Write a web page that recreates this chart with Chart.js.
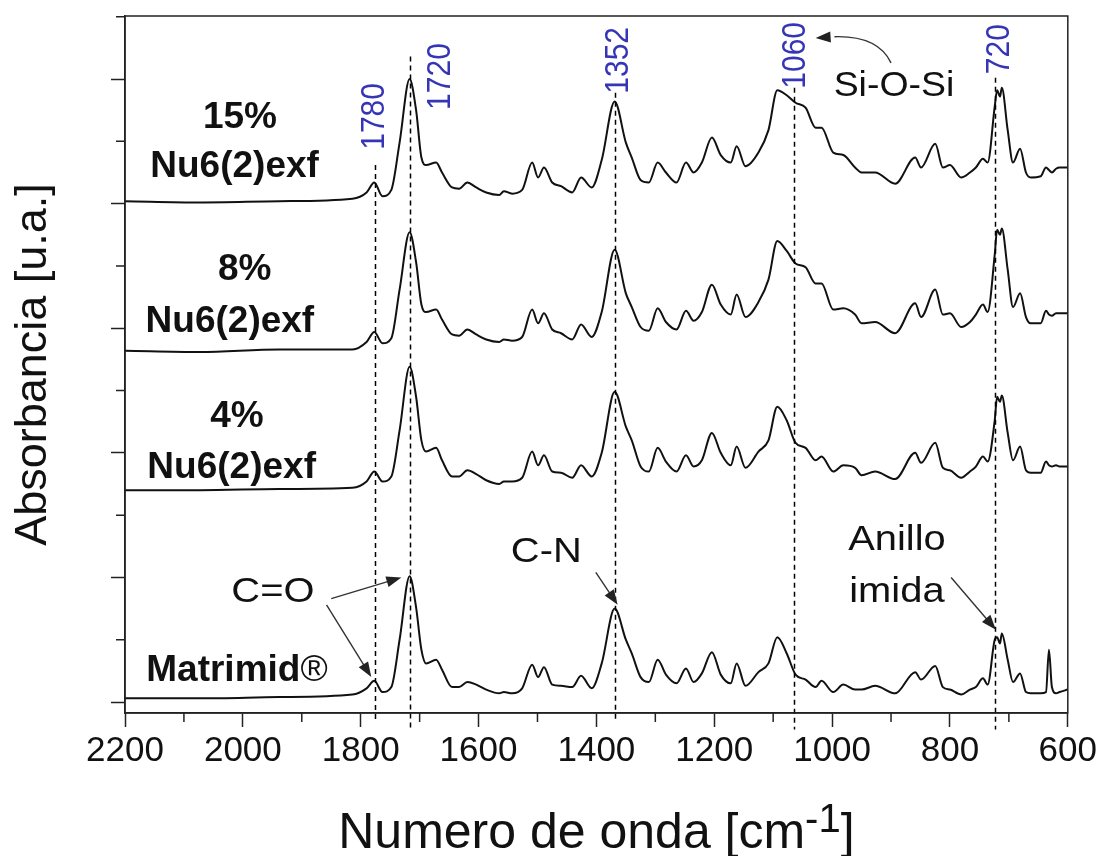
<!DOCTYPE html>
<html><head><meta charset="utf-8">
<script src="https://cdn.jsdelivr.net/npm/chart.js@4.4.1/dist/chart.umd.min.js"></script>
<style>html,body{margin:0;padding:0;background:#fff;}#wrap{width:1100px;height:856px;position:relative;}</style>
</head><body><div id="wrap"><canvas id="c"></canvas></div>
<script>
// ---- data (wavenumber in cm-1, absorbance in arbitrary stacked units) ----
const wavenumbers = [2200,2073,1938,1814,1790,1777,1763,1748,1734,1717,1706,1697,1689,1672,1662,1645,1633,1619,1604,1587,1565,1557,1543,1526,1509,1499,1489,1475,1460,1441,1426,1408,1391,1369,1350,1340,1325,1311,1296,1282,1264,1248,1235,1221,1204,1189,1172,1162,1147,1125,1108,1093,1077,1062,1045,1028,1018,998,981,961,950,927,893,859,849,825,812,800,781,766,756,744,736,724,720,715,712,702,693,681,671,663,646,637,632,627,620,614,600];
const nu6_15 = [4.02,4.01,4.02,4.04,4.09,4.17,4.06,4.11,4.49,5.00, 4.75,4.37,4.31,4.33,4.25,4.13,4.12,4.17,4.13,4.09, 4.07,4.10,4.08,4.11,4.33,4.21,4.29,4.17,4.14,4.09, 4.21,4.13,4.35,4.82,4.49,4.37,4.19,4.17,4.33,4.25, 4.17,4.33,4.25,4.33,4.53,4.39,4.33,4.46,4.30,4.41, 4.59,4.91,4.87,4.81,4.77,4.61,4.61,4.41,4.39,4.29, 4.25,4.25,4.16,4.37,4.29,4.48,4.29,4.31,4.21,4.25, 4.29,4.36,4.33,4.78,4.91,4.86,4.93,4.59,4.33,4.44, 4.25,4.21,4.22,4.29,4.27,4.25,4.28,4.29,4.29];
const nu6_8 = [2.82,2.81,2.83,2.83,2.89,2.97,2.88,2.92,3.31,3.77, 3.53,3.19,3.13,3.15,3.07,2.95,2.94,2.99,2.95,2.91, 2.89,2.91,2.90,2.93,3.15,3.04,3.12,2.99,2.96,2.91, 3.03,2.93,3.13,3.63,3.28,3.17,3.01,2.98,3.16,3.05, 2.99,3.14,3.06,3.13,3.35,3.19,3.11,3.27,3.09,3.21, 3.39,3.70,3.62,3.52,3.49,3.36,3.36,3.15,3.16,3.11, 3.04,3.05,2.96,3.20,3.09,3.31,3.11,3.12,3.01,3.05, 3.11,3.19,3.13,3.59,3.79,3.75,3.80,3.47,3.17,3.28, 3.09,3.04,3.04,3.14,3.11,3.10,3.12,3.12,3.12];
const nu6_4 = [1.70,1.70,1.71,1.72,1.77,1.85,1.77,1.81,2.18,2.69, 2.45,2.10,2.01,2.04,1.94,1.81,1.81,1.86,1.83,1.78, 1.75,1.77,1.77,1.80,2.01,1.90,1.98,1.85,1.84,1.80, 1.90,1.81,2.00,2.49,2.21,2.10,1.89,1.85,2.04,1.93, 1.85,1.98,1.89,1.94,2.16,2.00,1.90,2.05,1.88,2.01, 2.10,2.37,2.26,2.08,2.04,1.94,1.97,1.85,1.90,1.88, 1.82,1.85,1.79,2.00,1.92,2.08,1.88,1.86,1.80,1.85, 1.89,1.97,1.93,2.26,2.45,2.41,2.46,2.16,1.94,2.05, 1.86,1.84,1.84,1.93,1.90,1.89,1.90,1.89,1.89];
const matrimid = [0.03,0.03,0.04,0.06,0.11,0.17,0.08,0.12,0.50,1.01, 0.76,0.42,0.31,0.34,0.26,0.12,0.12,0.16,0.14,0.10, 0.07,0.08,0.07,0.11,0.30,0.20,0.28,0.14,0.13,0.12, 0.21,0.11,0.31,0.75,0.50,0.39,0.20,0.16,0.34,0.22, 0.15,0.27,0.16,0.23,0.40,0.22,0.15,0.31,0.13,0.24, 0.31,0.52,0.39,0.22,0.18,0.12,0.17,0.08,0.14,0.10, 0.10,0.13,0.07,0.24,0.18,0.29,0.12,0.10,0.06,0.10, 0.12,0.19,0.14,0.50,0.52,0.47,0.55,0.34,0.16,0.23, 0.08,0.07,0.07,0.08,0.42,0.12,0.07,0.08,0.10];
const seriesNames = ['15% Nu6(2)exf','8% Nu6(2)exf','4% Nu6(2)exf','Matrimid®'];
const peakLabels = ['1780','1720','1352','1060','720'];
const peakLines = [1775,1717,1369,1064,724];
const xMajorTicks = [2200,2000,1800,1600,1400,1200,1000,800,600];

// ---- styling / layout ----
const FF = '"Liberation Sans", Arial, Helvetica, sans-serif';
const INK = '#111';
const BLUE = '#3535b5';
const ANN = {
  dashTop: [4.31,5.18,4.89,4.93,5.01],
  dashBottom: [-0.15,-0.22,-0.16,-0.22,-0.22],
  peakLabelPos: [[1777,4.70],[1665,5.02],[1362,5.15],[1062,5.19],[715,5.24]],
  seriesLabelPos: [[[2005,4.61],[2014,4.21]],[[1997,3.39],[2022,2.97]],[[2010,2.21],[2019,1.80]],[[2010,0.17]]],
  texts: [
    {t:'C=O', p:[1949,0.80]}, {t:'C-N', p:[1485,1.12]},
    {t:'Anillo', p:[890,1.22]}, {t:'imida', p:[890,0.80]}, {t:'Si-O-Si', p:[895,4.86], sx:1.07}
  ],
  arrows: [[[1850,0.83],[1731,1.00]], [[1858,0.78],[1782,0.20]], [[1401,1.04],[1364,0.78]], [[798,1.00],[722,0.58]]],
  curve: {start:[900,5.13], ctrl:[922,5.35], end:[996,5.34], tip:[1028,5.33]}
};

function pts(arr){ return wavenumbers.map((w,i)=>({x:w, y:arr[i]})); }
const seriesData = [nu6_15, nu6_8, nu6_4, matrimid];

const annotPlugin = {
  id:'annot',
  afterDatasetsDraw(chart){
    const ctx=chart.ctx, xs=chart.scales.x, ys=chart.scales.y;
    const px=v=>xs.getPixelForValue(v), py=v=>ys.getPixelForValue(v);
    ctx.save();
    ctx.setLineDash([5,4]); ctx.lineWidth=1.5; ctx.strokeStyle='#000';
    peakLines.forEach((w,i)=>{
      ctx.beginPath(); ctx.moveTo(Math.round(px(w))+0.5, py(ANN.dashTop[i])); ctx.lineTo(Math.round(px(w))+0.5, py(ANN.dashBottom[i])); ctx.stroke();
    });
    ctx.restore();
  },
  afterDraw(chart){
    const ctx=chart.ctx, xs=chart.scales.x, ys=chart.scales.y, a=chart.chartArea;
    const px=v=>xs.getPixelForValue(v), py=v=>ys.getPixelForValue(v);
    ctx.save();
    // frame
    ctx.strokeStyle='#222'; ctx.lineWidth=1.5;
    ctx.strokeRect(a.left, a.top, a.right-a.left, a.bottom-a.top);
    // minor ticks
    ctx.beginPath();
    for(let v=700; v<=2100; v+=200){ const x=px(v); ctx.moveTo(x,a.bottom); ctx.lineTo(x,a.bottom+9); }
    for(let v=0.5; v<=5.5; v+=1){ const y=py(v); ctx.moveTo(a.left,y); ctx.lineTo(a.left-9,y); }
    ctx.stroke();

    function txt(s, x, y, o){
      ctx.save(); ctx.translate(x,y); ctx.scale(o.sx||1,1); if(o.rot) ctx.rotate(o.rot);
      ctx.font=o.font; ctx.fillStyle=o.color||INK; ctx.textAlign=o.align||'center'; ctx.textBaseline=o.baseline||'alphabetic';
      ctx.fillText(s,0,0); ctx.restore();
    }
    // blue peak labels
    peakLabels.forEach((s,i)=>{
      const [w,v]=ANN.peakLabelPos[i];
      txt(s, px(w), py(v), {font:'30px '+FF, color:BLUE, rot:-Math.PI/2, baseline:'middle', sx:1.12});
    });
    // series labels
    seriesNames.forEach((name,i)=>{
      const pos=ANN.seriesLabelPos[i];
      if(name.startsWith('Matrimid')){
        const [w,v]=pos[0];
        const main=name.replace('®',''), reg='®';
        ctx.font='bold 37px '+FF; const w1=ctx.measureText(main).width;
        ctx.font='37px '+FF; const w2=ctx.measureText(reg).width;
        const x0=px(w)-(w1+w2)/2, y0=py(v);
        txt(main, x0, y0, {font:'bold 37px '+FF, align:'left'});
        txt(reg, x0+w1, y0, {font:'37px '+FF, align:'left'});
      } else {
        const parts=[name.split(' ')[0], name.split(' ').slice(1).join(' ')];
        parts.forEach((p,j)=>{ const [w,v]=pos[j]; txt(p, px(w), py(v), {font:'bold 37px '+FF}); });
      }
    });
    // other texts
    ANN.texts.forEach(o=>{ txt(o.t, px(o.p[0]), py(o.p[1]), {font:'35px '+FF, sx:o.sx||1.14}); });
    // arrows
    ctx.strokeStyle='#333'; ctx.fillStyle='#222'; ctx.lineWidth=1.4;
    function head(x2,y2,ang){
      const L=15,W=5.5, c=Math.cos(ang), s=Math.sin(ang);
      ctx.beginPath(); ctx.moveTo(x2,y2);
      ctx.lineTo(x2-L*c+W*s, y2-L*s-W*c); ctx.lineTo(x2-L*c-W*s, y2-L*s+W*c); ctx.closePath(); ctx.fill();
    }
    ANN.arrows.forEach(([p1,p2])=>{
      const x1=px(p1[0]), y1=py(p1[1]), x2=px(p2[0]), y2=py(p2[1]);
      const ang=Math.atan2(y2-y1,x2-x1);
      ctx.beginPath(); ctx.moveTo(x1,y1); ctx.lineTo(x2-10*Math.cos(ang), y2-10*Math.sin(ang)); ctx.stroke();
      head(x2,y2,ang);
    });
    const cv=ANN.curve;
    ctx.beginPath(); ctx.moveTo(px(cv.start[0]),py(cv.start[1]));
    ctx.quadraticCurveTo(px(cv.ctrl[0]),py(cv.ctrl[1]),px(cv.end[0]),py(cv.end[1])); ctx.stroke();
    head(px(cv.tip[0]),py(cv.tip[1]), Math.atan2(py(cv.tip[1])-py(cv.end[1]), px(cv.tip[0])-px(cv.end[0])));
    // x-axis title with superscript
    const cx=(a.left+a.right)/2 + 0, by=848;
    const t1='Numero de onda [cm', t2='-1', t3=']';
    ctx.font='50px '+FF; const w1=ctx.measureText(t1).width, w3=ctx.measureText(t3).width;
    ctx.font='40px '+FF; const w2=ctx.measureText(t2).width;
    let x0=cx-(w1+w2+w3)/2;
    txt(t1, x0, by, {font:'50px '+FF, align:'left'});
    txt(t2, x0+w1, by-16, {font:'40px '+FF, align:'left'});
    txt(t3, x0+w1+w2, by, {font:'50px '+FF, align:'left'});
    ctx.restore();
  }
};

new Chart(document.getElementById('c'), {
  type:'line',
  data:{ datasets: seriesData.map((arr,i)=>({
    label: seriesNames[i], data: pts(arr), borderColor:INK, borderWidth:2,
    pointRadius:0, cubicInterpolationMode:'monotone', fill:false
  }))},
  options:{
    responsive:true, maintainAspectRatio:false, animation:false,
    layout:{padding:{top:16, right:30, bottom:0, left:0}},
    plugins:{legend:{display:false}, tooltip:{enabled:false}},
    scales:{
      x:{ type:'linear', reverse:true, min:600, max:2200,
        afterFit(s){ s.height=143; },
        afterBuildTicks(s){ s.ticks = xMajorTicks.map(v=>({value:v})); },
        ticks:{ stepSize:200, font:{family:FF, size:35}, color:INK, padding:3, maxRotation:0, autoSkip:false,
          callback:v=>String(v) },
        grid:{ drawOnChartArea:false, drawTicks:true, tickLength:14, tickColor:'#222', tickWidth:1.5 },
        border:{ display:true, color:'#222', width:1.5 },
        title:{ display:false }
      },
      y:{ type:'linear', min:-0.088, max:5.506,
        afterFit(s){ s.width=125; },
        ticks:{ display:false, stepSize:1, includeBounds:false },
        grid:{ drawOnChartArea:false, drawTicks:true, tickLength:14, tickColor:'#222', tickWidth:1.5 },
        border:{ display:true, color:'#222', width:1.5 },
        title:{ display:true, text:'Absorbancia [u.a.]', color:INK, font:{family:FF, size:45}, padding:{top:7, bottom:0} }
      }
    }
  },
  plugins:[annotPlugin]
});
</script></body></html>
